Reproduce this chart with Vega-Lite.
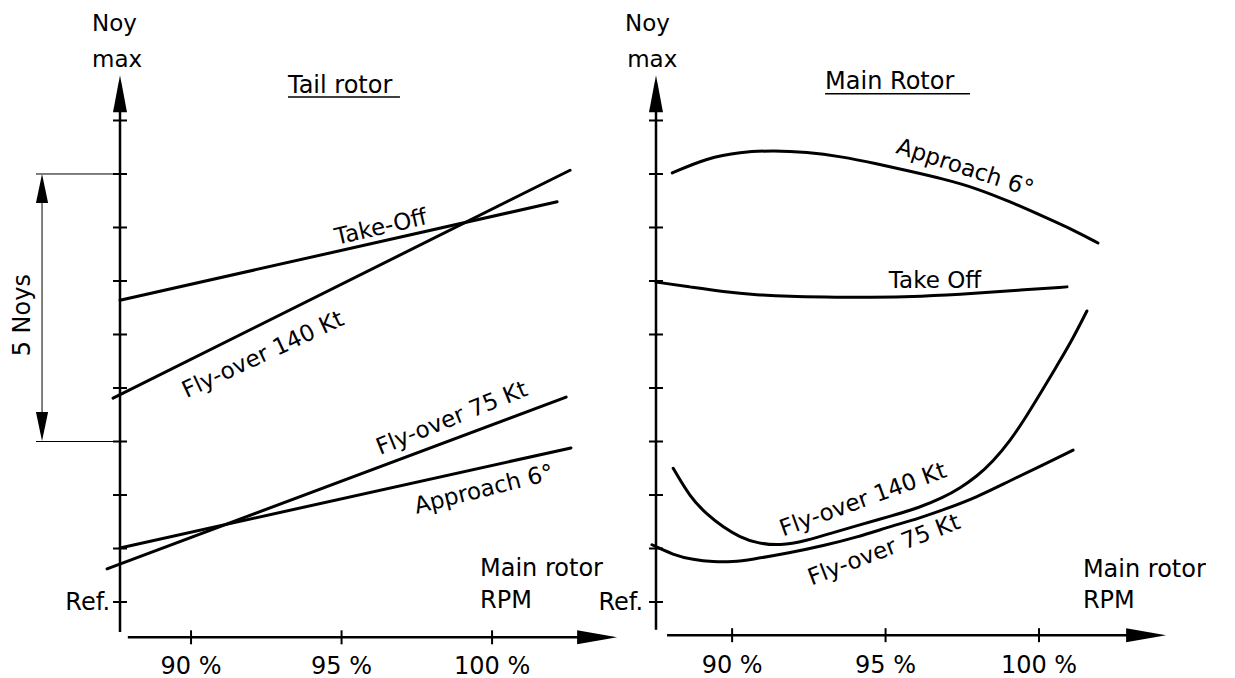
{
  "$schema": "https://vega.github.io/schema/vega-lite/v6.json",
  "autosize": {"type": "pad"},
  "padding": 0,
  "background": "white",
  "bounds": "flush",
  "spacing": 39,
  "config": {
    "view": {"stroke": null},
    "axis": {"disable": true},
    "text": {"font": "DejaVu Sans", "fontSize": 23, "color": "black"}
  },
  "datasets": {
    "curves": [
      {"panel": "Tail rotor", "series": "Take-Off", "rpm": 87.64, "noy": 5.64},
      {"panel": "Tail rotor", "series": "Take-Off", "rpm": 102.16, "noy": 7.48},
      {"panel": "Tail rotor", "series": "Fly-over 140 Kt", "rpm": 87.41, "noy": 3.81},
      {"panel": "Tail rotor", "series": "Fly-over 140 Kt", "rpm": 102.59, "noy": 8.07},
      {"panel": "Tail rotor", "series": "Fly-over 75 Kt", "rpm": 87.21, "noy": 0.62},
      {"panel": "Tail rotor", "series": "Fly-over 75 Kt", "rpm": 102.46, "noy": 3.83},
      {"panel": "Tail rotor", "series": "Approach 6°", "rpm": 87.64, "noy": 1.01},
      {"panel": "Tail rotor", "series": "Approach 6°", "rpm": 102.62, "noy": 2.88},

      {"panel": "Main Rotor", "series": "Approach 6°", "rpm": 88.05, "noy": 8.02},
      {"panel": "Main Rotor", "series": "Approach 6°", "rpm": 89.19, "noy": 8.30},
      {"panel": "Main Rotor", "series": "Approach 6°", "rpm": 90.26, "noy": 8.41},
      {"panel": "Main Rotor", "series": "Approach 6°", "rpm": 91.34, "noy": 8.44},
      {"panel": "Main Rotor", "series": "Approach 6°", "rpm": 92.44, "noy": 8.41},
      {"panel": "Main Rotor", "series": "Approach 6°", "rpm": 93.52, "noy": 8.33},
      {"panel": "Main Rotor", "series": "Approach 6°", "rpm": 94.72, "noy": 8.19},
      {"panel": "Main Rotor", "series": "Approach 6°", "rpm": 95.80, "noy": 8.05},
      {"panel": "Main Rotor", "series": "Approach 6°", "rpm": 96.87, "noy": 7.91},
      {"panel": "Main Rotor", "series": "Approach 6°", "rpm": 97.98, "noy": 7.73},
      {"panel": "Main Rotor", "series": "Approach 6°", "rpm": 99.06, "noy": 7.48},
      {"panel": "Main Rotor", "series": "Approach 6°", "rpm": 100.13, "noy": 7.21},
      {"panel": "Main Rotor", "series": "Approach 6°", "rpm": 101.24, "noy": 6.92},
      {"panel": "Main Rotor", "series": "Approach 6°", "rpm": 101.92, "noy": 6.71},

      {"panel": "Main Rotor", "series": "Take Off", "rpm": 87.52, "noy": 5.98},
      {"panel": "Main Rotor", "series": "Take Off", "rpm": 88.63, "noy": 5.89},
      {"panel": "Main Rotor", "series": "Take Off", "rpm": 89.71, "noy": 5.80},
      {"panel": "Main Rotor", "series": "Take Off", "rpm": 90.81, "noy": 5.74},
      {"panel": "Main Rotor", "series": "Take Off", "rpm": 91.89, "noy": 5.71},
      {"panel": "Main Rotor", "series": "Take Off", "rpm": 92.96, "noy": 5.70},
      {"panel": "Main Rotor", "series": "Take Off", "rpm": 94.50, "noy": 5.69},
      {"panel": "Main Rotor", "series": "Take Off", "rpm": 96.12, "noy": 5.71},
      {"panel": "Main Rotor", "series": "Take Off", "rpm": 97.98, "noy": 5.77},
      {"panel": "Main Rotor", "series": "Take Off", "rpm": 99.38, "noy": 5.83},
      {"panel": "Main Rotor", "series": "Take Off", "rpm": 100.91, "noy": 5.89},

      {"panel": "Main Rotor", "series": "Fly-over 140 Kt", "rpm": 88.08, "noy": 2.50},
      {"panel": "Main Rotor", "series": "Fly-over 140 Kt", "rpm": 88.63, "noy": 1.96},
      {"panel": "Main Rotor", "series": "Fly-over 140 Kt", "rpm": 89.19, "noy": 1.63},
      {"panel": "Main Rotor", "series": "Fly-over 140 Kt", "rpm": 89.71, "noy": 1.40},
      {"panel": "Main Rotor", "series": "Fly-over 140 Kt", "rpm": 90.26, "noy": 1.21},
      {"panel": "Main Rotor", "series": "Fly-over 140 Kt", "rpm": 90.81, "noy": 1.10},
      {"panel": "Main Rotor", "series": "Fly-over 140 Kt", "rpm": 91.56, "noy": 1.05},
      {"panel": "Main Rotor", "series": "Fly-over 140 Kt", "rpm": 92.44, "noy": 1.15},
      {"panel": "Main Rotor", "series": "Fly-over 140 Kt", "rpm": 93.19, "noy": 1.28},
      {"panel": "Main Rotor", "series": "Fly-over 140 Kt", "rpm": 94.07, "noy": 1.43},
      {"panel": "Main Rotor", "series": "Fly-over 140 Kt", "rpm": 95.15, "noy": 1.60},
      {"panel": "Main Rotor", "series": "Fly-over 140 Kt", "rpm": 96.12, "noy": 1.77},
      {"panel": "Main Rotor", "series": "Fly-over 140 Kt", "rpm": 96.87, "noy": 1.95},
      {"panel": "Main Rotor", "series": "Fly-over 140 Kt", "rpm": 97.43, "noy": 2.13},
      {"panel": "Main Rotor", "series": "Fly-over 140 Kt", "rpm": 97.98, "noy": 2.35},
      {"panel": "Main Rotor", "series": "Fly-over 140 Kt", "rpm": 98.50, "noy": 2.63},
      {"panel": "Main Rotor", "series": "Fly-over 140 Kt", "rpm": 99.06, "noy": 3.01},
      {"panel": "Main Rotor", "series": "Fly-over 140 Kt", "rpm": 99.61, "noy": 3.49},
      {"panel": "Main Rotor", "series": "Fly-over 140 Kt", "rpm": 100.13, "noy": 3.98},
      {"panel": "Main Rotor", "series": "Fly-over 140 Kt", "rpm": 100.62, "noy": 4.45},
      {"panel": "Main Rotor", "series": "Fly-over 140 Kt", "rpm": 101.11, "noy": 4.93},
      {"panel": "Main Rotor", "series": "Fly-over 140 Kt", "rpm": 101.56, "noy": 5.44},

      {"panel": "Main Rotor", "series": "Fly-over 75 Kt", "rpm": 87.39, "noy": 1.07},
      {"panel": "Main Rotor", "series": "Fly-over 75 Kt", "rpm": 88.08, "noy": 0.88},
      {"panel": "Main Rotor", "series": "Fly-over 75 Kt", "rpm": 88.73, "noy": 0.79},
      {"panel": "Main Rotor", "series": "Fly-over 75 Kt", "rpm": 89.38, "noy": 0.75},
      {"panel": "Main Rotor", "series": "Fly-over 75 Kt", "rpm": 90.03, "noy": 0.75},
      {"panel": "Main Rotor", "series": "Fly-over 75 Kt", "rpm": 90.59, "noy": 0.79},
      {"panel": "Main Rotor", "series": "Fly-over 75 Kt", "rpm": 91.89, "noy": 0.92},
      {"panel": "Main Rotor", "series": "Fly-over 75 Kt", "rpm": 92.96, "noy": 1.05},
      {"panel": "Main Rotor", "series": "Fly-over 75 Kt", "rpm": 94.07, "noy": 1.21},
      {"panel": "Main Rotor", "series": "Fly-over 75 Kt", "rpm": 95.15, "noy": 1.41},
      {"panel": "Main Rotor", "series": "Fly-over 75 Kt", "rpm": 96.12, "noy": 1.57},
      {"panel": "Main Rotor", "series": "Fly-over 75 Kt", "rpm": 96.87, "noy": 1.72},
      {"panel": "Main Rotor", "series": "Fly-over 75 Kt", "rpm": 97.98, "noy": 1.96},
      {"panel": "Main Rotor", "series": "Fly-over 75 Kt", "rpm": 99.06, "noy": 2.27},
      {"panel": "Main Rotor", "series": "Fly-over 75 Kt", "rpm": 100.13, "noy": 2.56},
      {"panel": "Main Rotor", "series": "Fly-over 75 Kt", "rpm": 101.11, "noy": 2.84}
    ],
    "yticks": [{"v": 0}, {"v": 1}, {"v": 2}, {"v": 3}, {"v": 4}, {"v": 5}, {"v": 6}, {"v": 7}, {"v": 8}, {"v": 9}],
    "xticks": [{"v": 90, "label": "90 %"}, {"v": 95, "label": "95 %"}, {"v": 100, "label": "100 %"}],
    "one": [{}]
  },
  "hconcat": [
    {
      "width": 497,
      "height": 565,
      "layer": [
        {
          "data": {"name": "curves"},
          "transform": [{"filter": "datum.panel === 'Tail rotor'"}],
          "mark": {"type": "line", "strokeWidth": 3, "color": "black", "strokeCap": "round"},
          "encoding": {
            "x": {"field": "rpm", "type": "quantitative", "scale": {"domain": [87.64, 104.15], "nice": false, "zero": false}},
            "y": {"field": "noy", "type": "quantitative", "scale": {"domain": [-0.71, 9.85], "nice": false, "zero": false}},
            "detail": {"field": "series"}
          }
        },
        {"data": {"name": "one"}, "mark": {"type": "rule", "strokeWidth": 1, "color": "white", "strokeOpacity": 0},
         "encoding": {"x": {"datum": 83.67}, "x2": {"datum": 83.7}, "y": {"datum": 11.2425}}},
        {"data": {"name": "one"}, "mark": {"type": "rule", "strokeWidth": 2.5, "color": "black"},
         "encoding": {"x": {"datum": 87.64}, "y": {"datum": -0.56}, "y2": {"datum": 9.3}}},
        {"data": {"name": "one"}, "mark": {"type": "point", "shape": "M0,-1L0.38,1L-0.38,1Z", "filled": true, "size": 1369, "color": "black", "opacity": 1, "strokeWidth": 0},
         "encoding": {"x": {"datum": 87.64}, "y": {"datum": 9.5}}},
        {"data": {"name": "one"}, "mark": {"type": "rule", "strokeWidth": 2.5, "color": "black"},
         "encoding": {"y": {"datum": -0.66}, "x": {"datum": 87.9}, "x2": {"datum": 103.0}}},
        {"data": {"name": "one"}, "mark": {"type": "point", "shape": "M1,0L-1,-0.35L-1,0.35Z", "filled": true, "size": 1600, "color": "black", "opacity": 1, "strokeWidth": 0},
         "encoding": {"x": {"datum": 103.49}, "y": {"datum": -0.66}}},
        {"data": {"name": "yticks"}, "mark": {"type": "tick", "orient": "horizontal", "size": 14, "thickness": 2, "color": "black", "opacity": 1},
         "encoding": {"x": {"datum": 87.64}, "y": {"field": "v", "type": "quantitative"}}},
        {"data": {"name": "xticks"}, "mark": {"type": "tick", "orient": "vertical", "size": 14, "thickness": 2, "color": "black", "opacity": 1},
         "encoding": {"x": {"field": "v", "type": "quantitative"}, "y": {"datum": -0.66}}},
        {"data": {"name": "xticks"}, "mark": {"type": "text", "align": "center", "baseline": "alphabetic", "fontSize": 24},
         "encoding": {"x": {"field": "v", "type": "quantitative"}, "y": {"datum": -1.35}, "text": {"field": "label"}}},

        {"data": {"name": "one"}, "mark": {"type": "rule", "strokeWidth": 1, "color": "black"},
         "encoding": {"y": {"datum": 8}, "x": {"datum": 84.85}, "x2": {"datum": 87.64}}},
        {"data": {"name": "one"}, "mark": {"type": "rule", "strokeWidth": 1, "color": "black"},
         "encoding": {"y": {"datum": 3}, "x": {"datum": 84.85}, "x2": {"datum": 87.64}}},
        {"data": {"name": "one"}, "mark": {"type": "rule", "strokeWidth": 1, "color": "black"},
         "encoding": {"x": {"datum": 85.05}, "y": {"datum": 3.2}, "y2": {"datum": 7.8}}},
        {"data": {"name": "one"}, "mark": {"type": "point", "shape": "M0,-1L0.42,1L-0.42,1Z", "filled": true, "size": 841, "color": "black", "opacity": 1, "strokeWidth": 0},
         "encoding": {"x": {"datum": 85.05}, "y": {"datum": 7.73}}},
        {"data": {"name": "one"}, "mark": {"type": "point", "shape": "M0,1L0.42,-1L-0.42,-1Z", "filled": true, "size": 841, "color": "black", "opacity": 1, "strokeWidth": 0},
         "encoding": {"x": {"datum": 85.05}, "y": {"datum": 3.28}}},
        {"data": {"name": "one"}, "mark": {"type": "text", "align": "center", "baseline": "middle", "angle": 270, "fontSize": 24},
         "encoding": {"x": {"datum": 84.42}, "y": {"datum": 5.36}, "text": {"value": "5 Noys"}}},

        {"data": {"name": "one"}, "mark": {"type": "text", "align": "left", "baseline": "alphabetic", "fontSize": 23},
         "encoding": {"x": {"datum": 86.71}, "y": {"datum": 10.67}, "text": {"value": "Noy"}}},
        {"data": {"name": "one"}, "mark": {"type": "text", "align": "left", "baseline": "alphabetic", "fontSize": 23},
         "encoding": {"x": {"datum": 86.71}, "y": {"datum": 10.0}, "text": {"value": "max"}}},
        {"data": {"name": "one"}, "mark": {"type": "text", "align": "left", "baseline": "alphabetic", "fontSize": 24},
         "encoding": {"x": {"datum": 93.22}, "y": {"datum": 9.51}, "text": {"value": "Tail rotor"}}},
        {"data": {"name": "one"}, "mark": {"type": "rule", "strokeWidth": 1.5, "color": "black"},
         "encoding": {"y": {"datum": 9.44}, "x": {"datum": 93.22}, "x2": {"datum": 96.94}}},
        {"data": {"name": "one"}, "mark": {"type": "text", "align": "center", "baseline": "middle", "angle": 347, "fontSize": 23},
         "encoding": {"x": {"datum": 96.31}, "y": {"datum": 7.0}, "text": {"value": "Take-Off"}}},
        {"data": {"name": "one"}, "mark": {"type": "text", "align": "center", "baseline": "middle", "angle": 335, "fontSize": 23},
         "encoding": {"x": {"datum": 92.39}, "y": {"datum": 4.62}, "text": {"value": "Fly-over 140 Kt"}}},
        {"data": {"name": "one"}, "mark": {"type": "text", "align": "center", "baseline": "middle", "angle": 338, "fontSize": 23},
         "encoding": {"x": {"datum": 98.67}, "y": {"datum": 3.43}, "text": {"value": "Fly-over 75 Kt"}}},
        {"data": {"name": "one"}, "mark": {"type": "text", "align": "center", "baseline": "middle", "angle": 346, "fontSize": 23},
         "encoding": {"x": {"datum": 99.73}, "y": {"datum": 2.1}, "text": {"value": "Approach 6°"}}},
        {"data": {"name": "one"}, "mark": {"type": "text", "align": "left", "baseline": "alphabetic", "fontSize": 24},
         "encoding": {"x": {"datum": 99.6}, "y": {"datum": 0.49}, "text": {"value": "Main rotor"}}},
        {"data": {"name": "one"}, "mark": {"type": "text", "align": "left", "baseline": "alphabetic", "fontSize": 24},
         "encoding": {"x": {"datum": 99.6}, "y": {"datum": -0.11}, "text": {"value": "RPM"}}},
        {"data": {"name": "one"}, "mark": {"type": "text", "align": "right", "baseline": "alphabetic", "fontSize": 24},
         "encoding": {"x": {"datum": 87.31}, "y": {"datum": -0.15}, "text": {"value": "Ref."}}}
      ]
    },
    {
      "width": 511,
      "height": 565,
      "layer": [
        {
          "data": {"name": "curves"},
          "transform": [{"filter": "datum.panel === 'Main Rotor'"}],
          "mark": {"type": "line", "strokeWidth": 3, "color": "black", "interpolate": "basis", "strokeCap": "round"},
          "encoding": {
            "x": {"field": "rpm", "type": "quantitative", "scale": {"domain": [87.52, 104.17], "nice": false, "zero": false}},
            "y": {"field": "noy", "type": "quantitative", "scale": {"domain": [-0.71, 9.85], "nice": false, "zero": false}},
            "detail": {"field": "series"}
          }
        },
        {"data": {"name": "one"}, "mark": {"type": "rule", "strokeWidth": 2.5, "color": "black"},
         "encoding": {"x": {"datum": 87.52}, "y": {"datum": -0.52}, "y2": {"datum": 9.3}}},
        {"data": {"name": "one"}, "mark": {"type": "point", "shape": "M0,-1L0.38,1L-0.38,1Z", "filled": true, "size": 1369, "color": "black", "opacity": 1, "strokeWidth": 0},
         "encoding": {"x": {"datum": 87.52}, "y": {"datum": 9.5}}},
        {"data": {"name": "one"}, "mark": {"type": "rule", "strokeWidth": 2.5, "color": "black"},
         "encoding": {"y": {"datum": -0.62}, "x": {"datum": 87.88}, "x2": {"datum": 103.0}}},
        {"data": {"name": "one"}, "mark": {"type": "point", "shape": "M1,0L-1,-0.35L-1,0.35Z", "filled": true, "size": 1600, "color": "black", "opacity": 1, "strokeWidth": 0},
         "encoding": {"x": {"datum": 103.49}, "y": {"datum": -0.62}}},
        {"data": {"name": "yticks"}, "mark": {"type": "tick", "orient": "horizontal", "size": 14, "thickness": 2, "color": "black", "opacity": 1},
         "encoding": {"x": {"datum": 87.52}, "y": {"field": "v", "type": "quantitative"}}},
        {"data": {"name": "xticks"}, "mark": {"type": "tick", "orient": "vertical", "size": 14, "thickness": 2, "color": "black", "opacity": 1},
         "encoding": {"x": {"field": "v", "type": "quantitative"}, "y": {"datum": -0.62}}},
        {"data": {"name": "xticks"}, "mark": {"type": "text", "align": "center", "baseline": "alphabetic", "fontSize": 24},
         "encoding": {"x": {"field": "v", "type": "quantitative"}, "y": {"datum": -1.33}, "text": {"field": "label"}}},

        {"data": {"name": "one"}, "mark": {"type": "text", "align": "left", "baseline": "alphabetic", "fontSize": 23},
         "encoding": {"x": {"datum": 86.51}, "y": {"datum": 10.67}, "text": {"value": "Noy"}}},
        {"data": {"name": "one"}, "mark": {"type": "text", "align": "left", "baseline": "alphabetic", "fontSize": 23},
         "encoding": {"x": {"datum": 86.58}, "y": {"datum": 10.0}, "text": {"value": "max"}}},
        {"data": {"name": "one"}, "mark": {"type": "text", "align": "left", "baseline": "alphabetic", "fontSize": 24},
         "encoding": {"x": {"datum": 93.03}, "y": {"datum": 9.58}, "text": {"value": "Main Rotor"}}},
        {"data": {"name": "one"}, "mark": {"type": "rule", "strokeWidth": 1.5, "color": "black"},
         "encoding": {"y": {"datum": 9.5}, "x": {"datum": 93.03}, "x2": {"datum": 97.75}}},
        {"data": {"name": "one"}, "mark": {"type": "text", "align": "center", "baseline": "middle", "angle": 18, "fontSize": 23},
         "encoding": {"x": {"datum": 97.59}, "y": {"datum": 8.11}, "text": {"value": "Approach 6°"}}},
        {"data": {"name": "one"}, "mark": {"type": "text", "align": "center", "baseline": "alphabetic", "fontSize": 23},
         "encoding": {"x": {"datum": 96.61}, "y": {"datum": 5.87}, "text": {"value": "Take Off"}}},
        {"data": {"name": "one"}, "mark": {"type": "text", "align": "center", "baseline": "middle", "angle": 340, "fontSize": 23},
         "encoding": {"x": {"datum": 94.27}, "y": {"datum": 1.91}, "text": {"value": "Fly-over 140 Kt"}}},
        {"data": {"name": "one"}, "mark": {"type": "text", "align": "center", "baseline": "middle", "angle": 339, "fontSize": 23},
         "encoding": {"x": {"datum": 94.95}, "y": {"datum": 0.97}, "text": {"value": "Fly-over 75 Kt"}}},
        {"data": {"name": "one"}, "mark": {"type": "text", "align": "left", "baseline": "alphabetic", "fontSize": 24},
         "encoding": {"x": {"datum": 101.43}, "y": {"datum": 0.47}, "text": {"value": "Main rotor"}}},
        {"data": {"name": "one"}, "mark": {"type": "text", "align": "left", "baseline": "alphabetic", "fontSize": 24},
         "encoding": {"x": {"datum": 101.43}, "y": {"datum": -0.11}, "text": {"value": "RPM"}}},
        {"data": {"name": "one"}, "mark": {"type": "text", "align": "right", "baseline": "alphabetic", "fontSize": 24},
         "encoding": {"x": {"datum": 87.1}, "y": {"datum": -0.15}, "text": {"value": "Ref."}}}
      ]
    }
  ]
}
